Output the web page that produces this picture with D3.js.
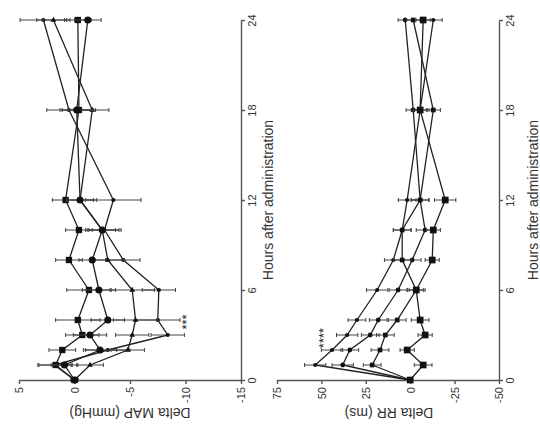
<!DOCTYPE html>
<html>
<head>
<meta charset="utf-8">
<script src="https://cdn.jsdelivr.net/npm/d3@7"></script>
<style>
  body { margin: 0; background: #fff; }
  svg { display: block; }
  text { font-family: "Liberation Sans", Arial, sans-serif; fill: #333; }
</style>
</head>
<body>
<script>
// time points (hours after administration)
const hours = [0, 1, 2, 3, 4, 6, 8, 10, 12, 18, 24];
const hourTicks = [0, 6, 12, 18, 24];

// Delta MAP (mmHg), four groups
const mapTicks = [5, 0, -5, -10, -15];
const mapA = [0, 1.8, -3.0, -8.4, -7.5, -7.6, -4.4, -2.7, -3.5, 0.5, 2.8];
const mapB = [0, -1.4, -4.8, -5.2, -5.5, -5.2, -3.0, -2.5, -0.5, -1.6, 1.9];
const mapC = [0, 1.7, 1.1, -0.7, -0.3, -1.3, 0.5, -0.4, 0.8, -0.4, -0.3];
const mapD = [0, 0.9, -2.3, -1.4, -3.0, -2.2, -1.6, -2.5, -0.5, -0.2, -1.2];
const mapAerr = [0.3, 1.5, 2.0, 1.5, 2.0, 1.5, 1.5, 1.5, 2.5, 2.0, 2.1];
const mapBerr = [0.3, 1.2, 1.5, 1.5, 2.0, 2.0, 1.5, 1.5, 1.5, 1.5, 1.5];
const mapCerr = [0.3, 1.5, 1.2, 1.5, 2.0, 2.0, 1.2, 1.2, 1.2, 1.5, 1.2];
const mapDerr = [0.3, 1.2, 1.5, 1.5, 1.5, 1.5, 1.2, 1.2, 1.2, 1.5, 1.2];

// Delta RR (ms), four groups
const rrTicks = [75, 50, 25, 0, -25, -50];
const rrP = [0, 53.5, 44.0, 35.5, 30.0, 18.6, 9.5, 4.5, 1.7, -5.6, -13.0];
const rrQ = [0, 38.0, 34.0, 22.5, 18.0, 6.8, -1.1, -8.4, -5.6, -1.7, 2.8];
const rrR = [0, 21.4, 17.0, 14.0, 7.3, -3.4, 4.5, 4.5, -5.6, -13.0, -1.7];
const rrS = [0, -7.3, 1.7, -8.4, -5.6, -3.4, -12.4, -13.0, -19.7, -5.6, -7.3];
const rrPerr = [1, 6, 6, 6, 5, 6, 5, 5, 5, 5, 5];
const rrQerr = [1, 6, 5, 5, 5, 5, 5, 5, 5, 4, 4];
const rrRerr = [1, 5, 5, 5, 5, 5, 5, 5, 5, 4, 4];
const rrSerr = [1, 5, 4, 4, 5, 4, 4, 4, 6, 4, 4];

const svg = d3.select("body").append("svg")
  .attr("width", 540)
  .attr("height", 439);

const y = d3.scaleLinear().domain([0, 24]).range([380, 20]);

function panel(opt) {
  const x = d3.scaleLinear().domain(opt.domain).range(opt.xRange);
  const g = svg.append("g");

  // value axis (horizontal, bottom)
  const xa = g.append("g")
    .attr("transform", "translate(0," + y(0) + ")")
    .call(d3.axisBottom(x).tickValues(opt.ticks).tickSize(4).tickSizeOuter(0).tickFormat(d => String(d)));
  xa.selectAll("text")
    .attr("x", -7).attr("y", 0).attr("dy", "0.35em")
    .attr("text-anchor", "end")
    .attr("transform", "rotate(-90)")
    .style("font-size", "11px");

  // hours axis (vertical, right)
  const ya = g.append("g")
    .attr("transform", "translate(" + opt.xRange[1] + ",0)")
    .call(d3.axisRight(y).tickValues(hourTicks).tickSize(4).tickSizeOuter(0));
  ya.selectAll("text")
    .attr("x", 0).attr("y", 7).attr("dy", "0.71em")
    .attr("text-anchor", "middle")
    .attr("transform", "rotate(-90)")
    .style("font-size", "11px");

  g.selectAll(".domain, .tick line").attr("stroke", "#555").attr("stroke-width", 1.4);

  // titles
  g.append("text")
    .attr("transform", "translate(" + opt.titleX + ",413) rotate(180)")
    .attr("text-anchor", "middle")
    .attr("dy", "0.35em")
    .style("font-size", "14px")
    .text(opt.title);
  g.append("text")
    .attr("transform", "translate(" + opt.hourTitleX + ",200) rotate(-90)")
    .attr("text-anchor", "middle")
    .attr("dy", "0.35em")
    .style("font-size", "14px")
    .text("Hours after administration");

  const line = d3.line().x(d => x(d.v)).y(d => y(d.h));

  opt.series.forEach(s => {
    const pts = hours.map((h, i) => ({ h: h, v: s.values[i], e: s.err[i] }));
    const sg = g.append("g");
    sg.append("path")
      .datum(pts)
      .attr("fill", "none")
      .attr("stroke", "#222")
      .attr("stroke-width", 1.3)
      .attr("d", line);
    // error bars
    const eb = sg.selectAll(".eb").data(pts).enter().append("g");
    eb.append("line")
      .attr("x1", d => x(d.v - d.e)).attr("x2", d => x(d.v + d.e))
      .attr("y1", d => y(d.h)).attr("y2", d => y(d.h))
      .attr("stroke", "#444").attr("stroke-width", 1);
    eb.append("line")
      .attr("x1", d => x(d.v - d.e)).attr("x2", d => x(d.v - d.e))
      .attr("y1", d => y(d.h) - 2).attr("y2", d => y(d.h) + 2)
      .attr("stroke", "#444").attr("stroke-width", 1);
    eb.append("line")
      .attr("x1", d => x(d.v + d.e)).attr("x2", d => x(d.v + d.e))
      .attr("y1", d => y(d.h) - 2).attr("y2", d => y(d.h) + 2)
      .attr("stroke", "#444").attr("stroke-width", 1);
    // markers
    sg.selectAll(".mk").data(pts).enter().append("path")
      .attr("transform", d => "translate(" + x(d.v) + "," + y(d.h) + ")")
      .attr("d", d3.symbol().type(s.symbol).size(s.size))
      .attr("fill", "#111");
  });

  g.append("text")
    .attr("transform", "translate(" + opt.star[0] + "," + opt.star[1] + ") rotate(-90)")
    .attr("text-anchor", "middle")
    .attr("dy", "0.7em")
    .style("font-size", "13px")
    .style("fill", "#222")
    .text(opt.star[2]);
}

panel({
  domain: [5, -15], xRange: [19, 241], ticks: mapTicks,
  title: "Delta MAP (mmHg)", titleX: 130, hourTitleX: 268,
  star: [182, 322, "***"],
  series: [
    { values: mapA, err: mapAerr, symbol: d3.symbolCircle, size: 14 },
    { values: mapB, err: mapBerr, symbol: d3.symbolTriangle, size: 14 },
    { values: mapC, err: mapCerr, symbol: d3.symbolSquare, size: 40 },
    { values: mapD, err: mapDerr, symbol: d3.symbolCircle, size: 40 }
  ]
});

panel({
  domain: [75, -50], xRange: [277, 499], ticks: rrTicks,
  title: "Delta RR (ms)", titleX: 389, hourTitleX: 533,
  star: [319, 338, "****"],
  series: [
    { values: rrP, err: rrPerr, symbol: d3.symbolCircle, size: 14 },
    { values: rrQ, err: rrQerr, symbol: d3.symbolCircle, size: 18 },
    { values: rrR, err: rrRerr, symbol: d3.symbolSquare, size: 22 },
    { values: rrS, err: rrSerr, symbol: d3.symbolSquare, size: 45 }
  ]
});
</script>
</body>
</html>
